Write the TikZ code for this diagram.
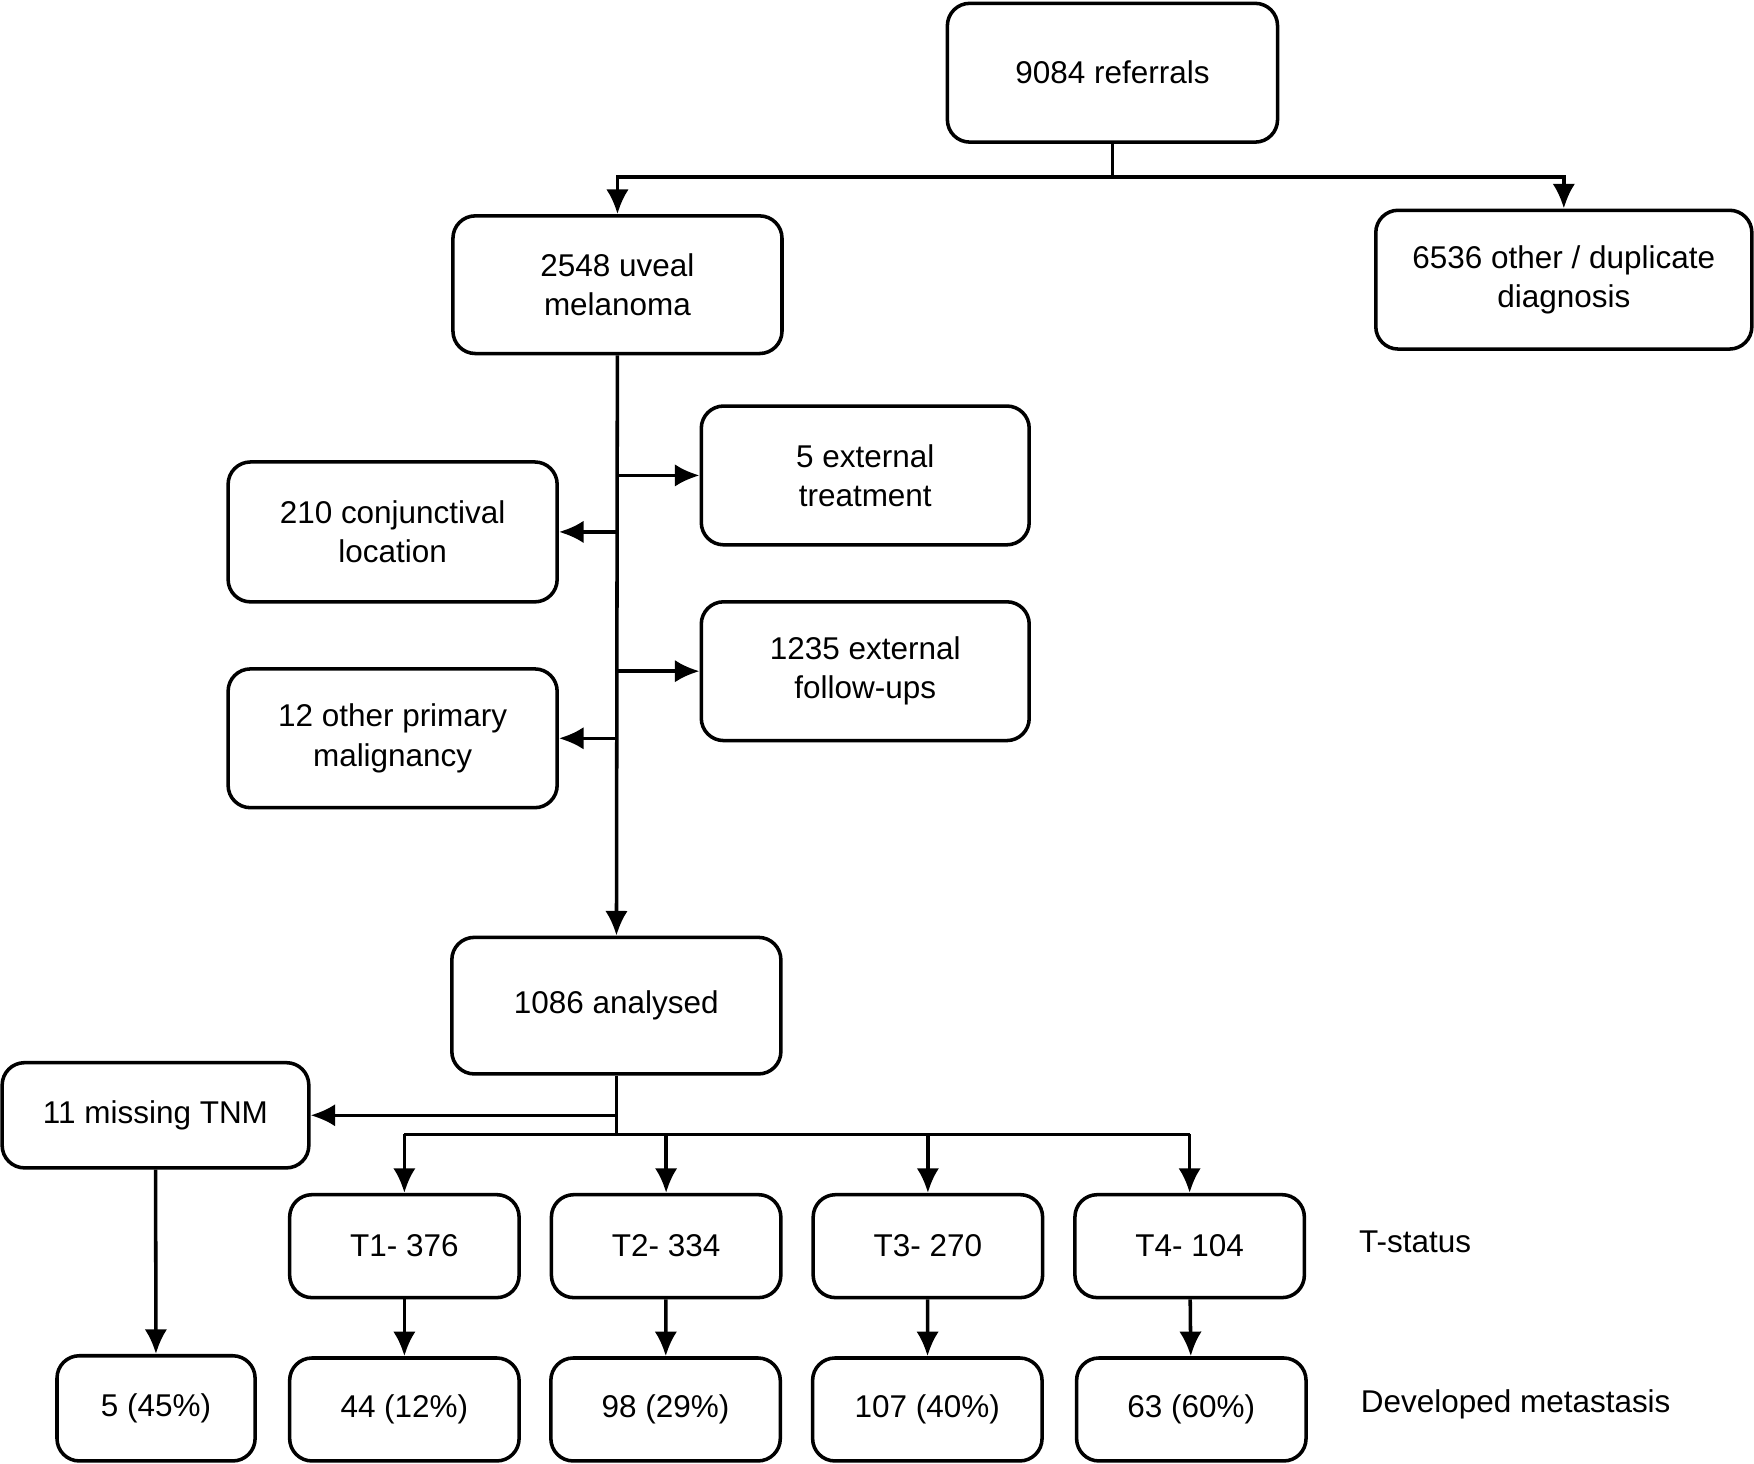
\documentclass[tikz,border=0pt]{standalone}
\usepackage{fontspec}
\setmainfont{Liberation Sans}
\usetikzlibrary{arrows.meta}
\tikzset{
  box/.style = {rectangle, draw, rounded corners=0.2cm, line width=0.9pt,
                align=center, font=\fontsize{8}{10}\selectfont},
  arr/.style = {-{Latex[length=2.2mm,width=2mm]}, line width=0.9pt},
  ln/.style = {line width=0.9pt}
}
\begin{document}
\begin{tikzpicture}[x=0.01cm,y=-0.01cm]
  \useasboundingbox (0,0) rectangle (1568,1308);

  \node[box, minimum width=2.95cm, minimum height=1.24cm] (ref) at (994.5,65) {9084 referrals};
  \node[box, minimum width=2.94cm, minimum height=1.23cm] (uveal) at (552,254.5) {2548 uveal\\melanoma};
  \node[box, minimum width=3.36cm, minimum height=1.24cm] (other) at (1398,250) {6536 other / duplicate\\diagnosis};
  \node[box, minimum width=2.94cm, minimum height=1.25cm] (conj) at (351,475.5) {210 conjunctival\\location};
  \node[box, minimum width=2.93cm, minimum height=1.24cm] (ext) at (773.5,425) {5 external\\treatment};
  \node[box, minimum width=2.94cm, minimum height=1.24cm] (prim) at (351,660) {12 other primary\\malignancy};
  \node[box, minimum width=2.93cm, minimum height=1.24cm] (fup) at (773.5,600) {1235 external\\follow-ups};
  \node[box, minimum width=2.94cm, minimum height=1.22cm] (ana) at (551,899) {1086 analysed};
  \node[box, minimum width=2.74cm, minimum height=0.94cm] (miss) at (139,997) {11 missing TNM};

  % T-status row
  \foreach \n/\x/\t in {T1/361.5/T1- 376, T2/595.5/T2- 334, T3/829.5/T3- 270, T4/1063.5/T4- 104}
    \node[box, minimum width=2.05cm, minimum height=0.92cm] (\n) at (\x,1114) {\t};

  % metastasis row
  \node[box, minimum width=1.77cm, minimum height=0.94cm] (M0) at (139.5,1259) {5 (45\%)};
  \foreach \n/\x/\t in {M1/361.5/44 (12\%), M2/595/98 (29\%), M3/829/107 (40\%), M4/1065/63 (60\%)}
    \node[box, minimum width=2.05cm, minimum height=0.92cm] (\n) at (\x,1260) {\t};

  \node[font=\fontsize{8}{10}\selectfont] (tlab) at (1265,1110) {T-status};
  \node[font=\fontsize{8}{10}\selectfont] (mlab) at (1355,1255) {Developed metastasis};

  % connectors
  \coordinate (j1) at (994.5,158);
  \draw[ln] (ref) -- (j1);
  \draw[arr] (j1) -| (uveal.north);
  \draw[arr] (j1) -| (other.north);
  \draw[arr] (uveal) -- (ana);
  \draw[arr] (uveal.south |- ext) -- (ext);
  \draw[arr] (uveal.south |- conj) -- (conj);
  \draw[arr] (uveal.south |- fup) -- (fup);
  \draw[arr] (uveal.south |- prim) -- (prim);

  \coordinate (j2) at (551,1014);
  \draw[ln] (ana) -- (j2);
  \draw[arr] (ana.south |- miss) -- (miss);
  \draw[ln] (T1.north |- j2) -- (T4.north |- j2);
  \foreach \n in {T1,T2,T3,T4}
    \draw[arr] (\n.north |- j2) -- (\n);
  \draw[arr] (miss) -- (M0);
  \foreach \a/\b in {T1/M1,T2/M2,T3/M3,T4/M4}
    \draw[arr] (\a) -- (\b);
\end{tikzpicture}
\end{document}
